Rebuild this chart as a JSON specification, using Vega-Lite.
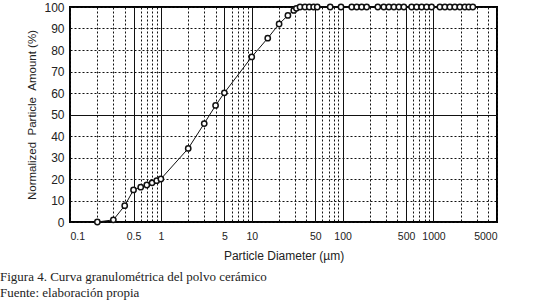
{
  "$schema": "https://vega.github.io/schema/vega-lite/v6.json",
  "width": 427,
  "height": 215,
  "autosize": {"type": "none"},
  "padding": {"left": 70, "top": 7, "right": 37, "bottom": 80},
  "background": "white",
  "config": {
    "view": {"stroke": "black", "strokeWidth": 2},
    "axis": {"labelFont": "Liberation Sans", "titleFont": "Liberation Sans", "labelColor": "#222", "titleColor": "#222", "titleFontWeight": "normal"}
  },
  "title": {
    "text": "Figura 4. Curva granulométrica del polvo cerámico",
    "subtitle": "Fuente: elaboración propia",
    "orient": "bottom",
    "anchor": "start",
    "frame": "group",
    "dx": -70,
    "offset": 9,
    "font": "Liberation Serif",
    "fontSize": 13,
    "fontWeight": "normal",
    "color": "#222",
    "subtitleFont": "Liberation Serif",
    "subtitleFontSize": 13,
    "subtitleColor": "#222",
    "subtitlePadding": 3
  },
  "data": {
    "values": [
      {"d": 0.2, "p": 0}, {"d": 0.3, "p": 1}, {"d": 0.4, "p": 7.6}, {"d": 0.5, "p": 14.9},
      {"d": 0.6, "p": 16.2}, {"d": 0.7, "p": 17.2}, {"d": 0.8, "p": 18.2}, {"d": 0.9, "p": 19.2},
      {"d": 1, "p": 20}, {"d": 2, "p": 34.2}, {"d": 3, "p": 45.8}, {"d": 4, "p": 54.2},
      {"d": 5, "p": 60.1}, {"d": 10, "p": 76.8}, {"d": 15, "p": 85.5}, {"d": 20, "p": 92.1},
      {"d": 25, "p": 96.1}, {"d": 29, "p": 98.4}, {"d": 31, "p": 99.4}, {"d": 34, "p": 100},
      {"d": 38.5, "p": 100}, {"d": 43, "p": 100}, {"d": 48, "p": 100}, {"d": 52.6, "p": 100},
      {"d": 73, "p": 100}, {"d": 96, "p": 100}, {"d": 126, "p": 100}, {"d": 143, "p": 100},
      {"d": 162, "p": 100}, {"d": 184, "p": 100}, {"d": 244, "p": 100}, {"d": 284, "p": 100},
      {"d": 323, "p": 100}, {"d": 367, "p": 100}, {"d": 416, "p": 100}, {"d": 472, "p": 100},
      {"d": 574, "p": 100}, {"d": 652, "p": 100}, {"d": 740, "p": 100}, {"d": 840, "p": 100},
      {"d": 953, "p": 100}, {"d": 1176, "p": 100}, {"d": 1335, "p": 100}, {"d": 1515, "p": 100},
      {"d": 1719, "p": 100}, {"d": 1951, "p": 100}, {"d": 2215, "p": 100}, {"d": 2449, "p": 100},
      {"d": 2710, "p": 100}
    ]
  },
  "encoding": {
    "x": {
      "field": "d", "type": "quantitative",
      "scale": {"type": "log", "domain": [0.1, 5000], "nice": false},
      "axis": {
        "title": "Particle\u00a0Diameter\u00a0(µm)",
        "titleFontSize": 12,
        "titlePadding": 9,
        "values": [0.1,0.2,0.3,0.4,0.5,0.6,0.7,0.8,0.9,1,2,3,4,5,6,7,8,9,10,20,30,40,50,60,70,80,90,100,200,300,400,500,600,700,800,900,1000,2000,3000,4000,5000],
        "format": "~g",
        "labelExpr": "indexof([0.1,0.5,1,5,10,50,100,500,1000,5000], datum.value) >= 0 ? datum.label : ''",
        "labelOverlap": false,
        "labelFontSize": 10.5,
        "labelPadding": 9,
        "ticks": false,
        "domain": false,
        "grid": true,
        "gridColor": "#111",
        "gridOpacity": 1,
        "gridWidth": 1,
        "gridDash": {"condition": {"test": "indexof([0.5,1,5,10,50,100,500,1000], datum.value) >= 0", "value": []}, "value": [2, 2]}
      }
    },
    "y": {
      "field": "p", "type": "quantitative",
      "scale": {"domain": [0, 100], "nice": false},
      "axis": {
        "title": "Normalized\u00a0\u00a0Particle\u00a0\u00a0Amount\u00a0(%)",
        "titleFontSize": 11.5,
        "titlePadding": 6,
        "values": [0,10,20,30,40,50,60,70,80,90,100],
        "labelFontSize": 12,
        "labelPadding": 6,
        "ticks": false,
        "domain": false,
        "grid": true,
        "gridColor": "#111",
        "gridOpacity": 1,
        "gridWidth": 1,
        "gridDash": {"condition": {"test": "datum.value == 50", "value": []}, "value": [2, 2]}
      }
    }
  },
  "layer": [
    {"mark": {"type": "line", "color": "#111", "strokeWidth": 1}},
    {"mark": {"type": "point", "shape": "circle", "filled": true, "fill": "white", "stroke": "#111", "strokeWidth": 1.5, "size": 28, "opacity": 1}}
  ]
}
